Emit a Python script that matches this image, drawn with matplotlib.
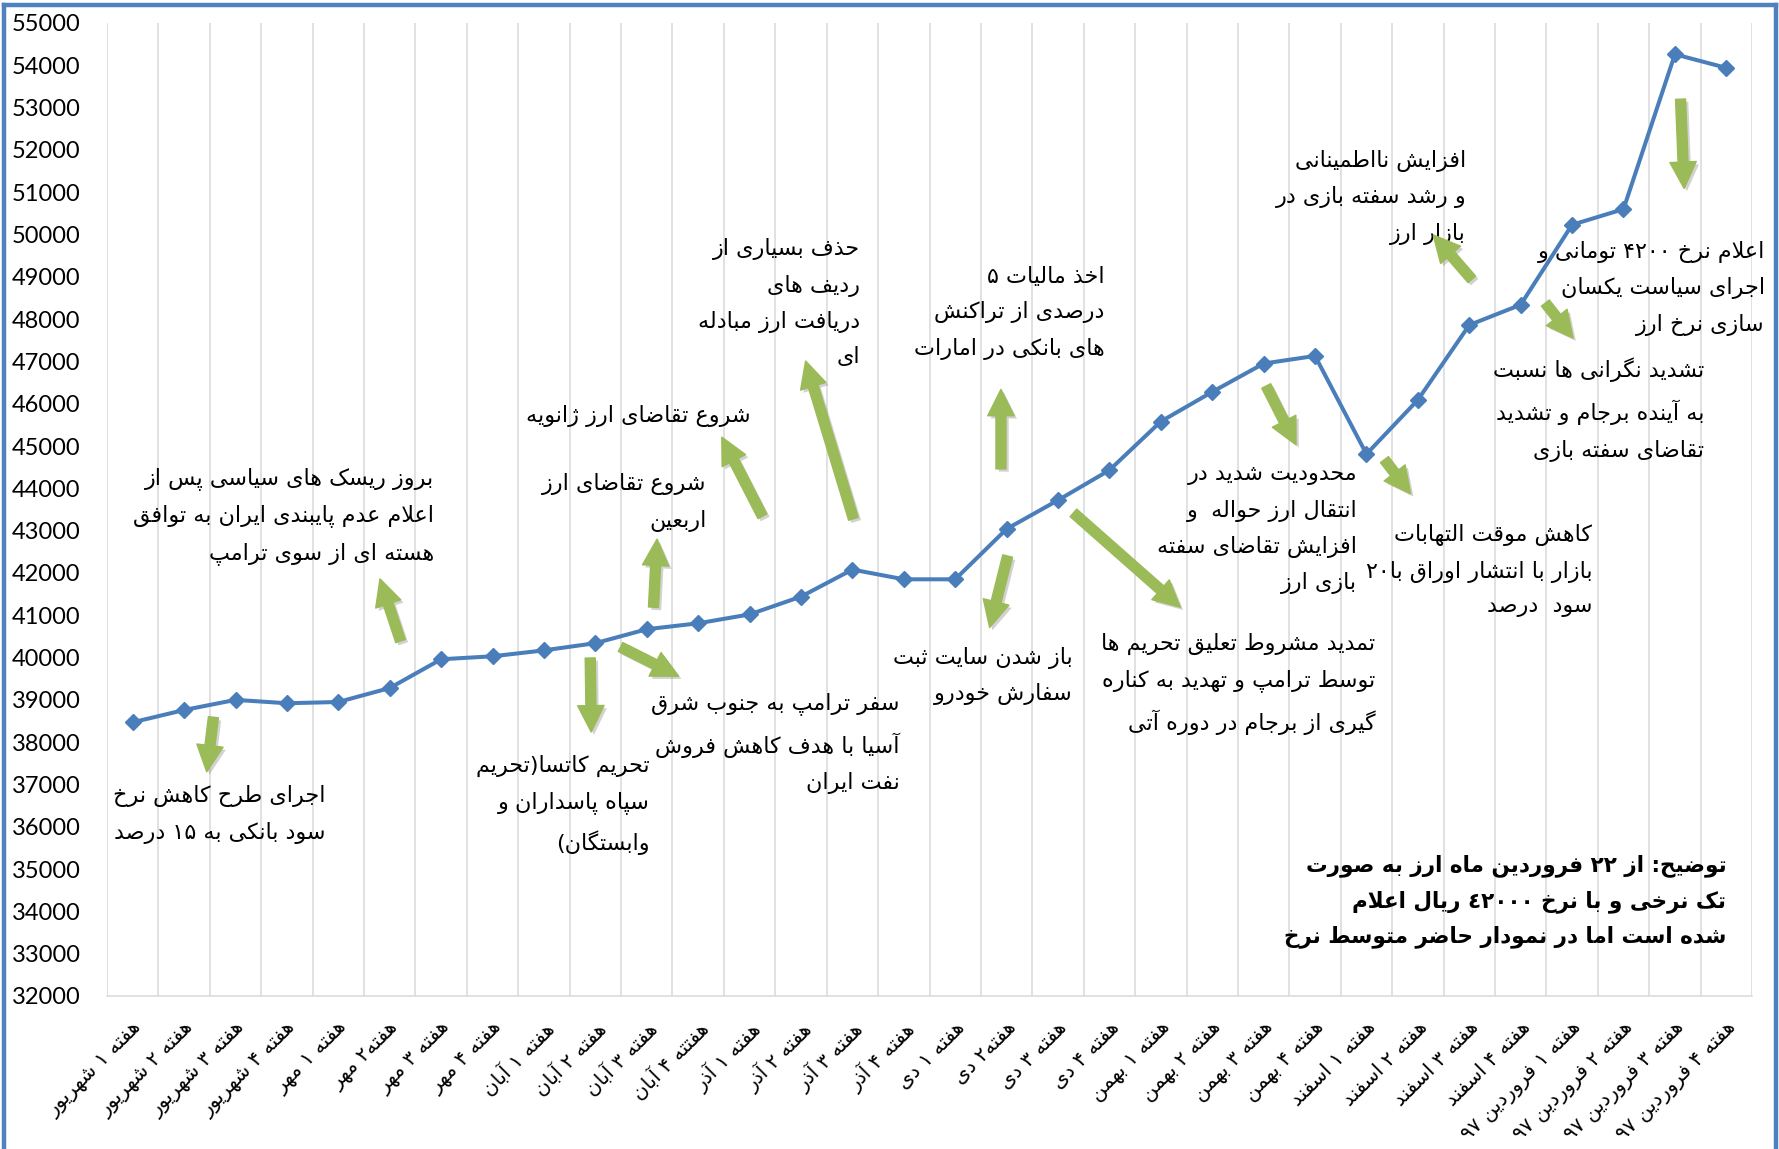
import re
import matplotlib
matplotlib.use('Agg')
import matplotlib.pyplot as plt
import matplotlib.patheffects as pe
from matplotlib.lines import Line2D

# weekly average rate (rial)
weeks = ['هفته ۱ شهریور', 'هفته ۲ شهریور', 'هفته ۳ شهریور', 'هفته ۴ شهریور',
         'هفته ۱ مهر', 'هفته۲ مهر', 'هفته ۳ مهر', 'هفته ۴ مهر',
         'هفته ۱ آبان', 'هفته ۲ آبان', 'هفته ۳ آبان', 'هفتته ۴ آبان',
         'هفته ۱ آذر', 'هفته ۲ آذر', 'هفته ۳ آذر', 'هفته ۴ آذر',
         'هفته ۱ دی', 'هفته۲ دی', 'هفته ۳ دی', 'هفته ۴ دی',
         'هفته ۱ بهمن', 'هفته ۲ بهمن', 'هفته ۳ بهمن', 'هفته ۴ بهمن',
         'هفته ۱ اسفند', 'هفته ۲ اسفند', 'هفته ۳ اسفند', 'هفته ۴ اسفند',
         'هفته ۱ فروردین ۹۷', 'هفته ۲ فروردین ۹۷', 'هفته ۳ فروردین ۹۷', 'هفته ۴ فروردین ۹۷']
rates = [38470, 38760, 39000, 38920, 38950, 39280, 39960, 40030,
         40170, 40340, 40670, 40810, 41020, 41440, 42080, 41850,
         41850, 43040, 43720, 44430, 45580, 46280, 46950, 47130,
         44810, 46090, 47860, 48340, 50230, 50600, 54260, 53940]
yticks = list(range(32000, 55001, 1000))

# event notes: (text, right edge x, top y)
events = [
    ('اجرای طرح کاهش نرخ\nسود بانکی به ۱۵ درصد', 3.75, 36985),
    ('بروز ریسک های سیاسی پس از\nاعلام عدم پایبندی ایران به توافق\nهسته ای از سوی ترامپ', 5.87, 44500),
    ('تحریم کاتسا(تحریم\nسپاه پاسداران و\nوابستگان)', 10.05, 37710),
    ('شروع تقاضای ارز\nاربعین', 11.17, 44360),
    ('شروع تقاضای ارز ژانویه', 12.03, 45980),
    ('سفر ترامپ به جنوب شرق\nآسیا با هدف کاهش فروش\nنفت ایران', 14.92, 39180),
    ('حذف بسیاری از\nردیف های\nدریافت ارز مبادله\nای', 14.15, 49910),
    ('اخذ مالیات ۵\nدرصدی از تراکنش\nهای بانکی در امارات', 18.90, 49240),
    ('باز شدن سایت ثبت\nسفارش خودرو', 18.28, 40260),
    ('تمدید مشروط تعلیق تحریم ها\nتوسط ترامپ و تهدید به کناره\nگیری از برجام در دوره آتی', 24.17, 40580),
    ('محدودیت شدید در\nانتقال ارز حواله  و\nافزایش تقاضای سفته\nبازی ارز', 23.82, 44550),
    ('افزایش نااطمینانی\nو رشد سفته بازی در\nبازار ارز', 25.94, 52000),
    ('اعلام نرخ ۴۲۰۰ تومانی و\nاجرای سیاست یکسان\nسازی نرخ ارز', 31.75, 49850),
    ('تشدید نگرانی ها نسبت\nبه آینده برجام و تشدید\nتقاضای سفته بازی', 30.57, 47090),
    ('کاهش موقت التهابات\nبازار با انتشار اوراق با۲۰\nسود  درصد', 28.39, 43150),
]
note = ('توضیح: از ۲۲ فروردین ماه ارز به صورت\n'
        'تک نرخی و با نرخ ٤۲۰۰۰ ریال اعلام\n'
        'شده است اما در نمودار حاضر متوسط نرخ')

# arrows: (tail x, tail y, head x, head y)
arrows = [
    (1.57, 38590, 1.44, 37300),
    (5.21, 40390, 4.81, 41860),
    (8.90, 39990, 8.92, 38240),
    (10.13, 41190, 10.20, 42800),
    (12.25, 43340, 11.46, 45210),
    (9.49, 40250, 10.62, 39560),
    (14.02, 43280, 13.09, 47010),
    (16.89, 44460, 16.89, 46340),
    (17.02, 42400, 16.67, 40710),
    (18.30, 43420, 20.38, 41190),
    (22.05, 46420, 22.63, 45030),
    (26.05, 48940, 25.30, 49990),
    (30.11, 53200, 30.18, 51090),
    (27.48, 48380, 28.02, 47550),
    (24.35, 44680, 24.86, 43870),
]

# --- minimal Persian shaping so DejaVu Sans draws joined letters ---
DUAL = {'ئ': 0xFE89, 'ب': 0xFE8F, 'ت': 0xFE95, 'ث': 0xFE99, 'ج': 0xFE9D,
        'ح': 0xFEA1, 'خ': 0xFEA5, 'س': 0xFEB1, 'ش': 0xFEB5, 'ص': 0xFEB9,
        'ض': 0xFEBD, 'ط': 0xFEC1, 'ظ': 0xFEC5, 'ع': 0xFEC9, 'غ': 0xFECD,
        'ف': 0xFED1, 'ق': 0xFED5, 'ك': 0xFED9, 'ل': 0xFEDD, 'م': 0xFEE1,
        'ن': 0xFEE5, 'ه': 0xFEE9, 'ي': 0xFEF1, 'پ': 0xFB56, 'چ': 0xFB7A,
        'ک': 0xFB8E, 'گ': 0xFB92, 'ی': 0xFBFC}
RIGHT = {'آ': 0xFE81, 'أ': 0xFE83, 'ؤ': 0xFE85, 'إ': 0xFE87, 'ا': 0xFE8D,
         'ة': 0xFE93, 'د': 0xFEA9, 'ذ': 0xFEAB, 'ر': 0xFEAD, 'ز': 0xFEAF,
         'و': 0xFEED, 'ى': 0xFEEF, 'ژ': 0xFB8A}
LAM_ALEF = {'ا': 0xFEFB, 'آ': 0xFEF5, 'أ': 0xFEF7, 'إ': 0xFEF9}


def shape(line):
    out = []
    i = 0
    while i < len(line):
        c = line[i]
        prev = line[i - 1] if i > 0 else ''
        nxt = line[i + 1] if i + 1 < len(line) else ''
        jp = (c in DUAL or c in RIGHT) and prev in DUAL
        if c == 'ل' and nxt in LAM_ALEF:
            out.append(chr(LAM_ALEF[nxt] + jp))
            i += 2
            continue
        if c in DUAL:
            jn = nxt in DUAL or nxt in RIGHT
            form = 3 if (jp and jn) else 1 if jp else 2 if jn else 0
            out.append(chr(DUAL[c] + form))
        elif c in RIGHT:
            out.append(chr(RIGHT[c] + jp))
        elif c != '\u200c':
            out.append(c)
        i += 1
    return out


def rtl(text):
    lines = []
    for line in text.split('\n'):
        s = ''.join(shape(line)[::-1])
        s = re.sub(r'[0-9۰-۹٠-٩]+', lambda m: m.group(0)[::-1], s)
        lines.append(s.translate(str.maketrans('()', ')(')))
    return '\n'.join(lines)


blue = '#4A7EBB'
green = '#9BBB59'
grid = '#D9D9D9'

fig = plt.figure(figsize=(17.79, 11.49), dpi=100)
ax = fig.add_axes([107 / 1779, 153 / 1149, 1645 / 1779, 973 / 1149])

x = list(range(len(rates)))
ax.plot(x, rates, color=blue, lw=2.9, marker='D', ms=8.5,
        mfc=blue, mec=blue, zorder=3)

ax.set_xlim(-0.5, len(rates) - 0.5)
ax.set_ylim(32000, 55000)
ax.set_yticks(yticks)
ax.set_yticklabels([str(v) for v in yticks], fontsize=17, family='Lato')
ax.tick_params(axis='y', length=0, pad=19)

ax.set_xticks(x)
ax.set_xticklabels([rtl(w) for w in weeks], rotation=45, ha='right', va='top',
                   rotation_mode='anchor', fontsize=14.5, family='DejaVu Sans')
ax.tick_params(axis='x', length=0, pad=16)

# vertical gridlines on category boundaries
ax.set_xticks([i - 0.5 for i in range(len(rates) + 1)], minor=True)
ax.tick_params(axis='x', which='minor', length=0)
ax.grid(True, which='minor', axis='x', color=grid, lw=1.1)
ax.set_axisbelow(True)
for side in ('left', 'right', 'top'):
    ax.spines[side].set_visible(False)
ax.spines['bottom'].set_color(grid)
ax.spines['bottom'].set_linewidth(1.1)

for txt, tx, ty in events:
    ax.text(tx, ty, rtl(txt), ha='right', va='top', multialignment='right',
            fontsize=16, family='DejaVu Sans', linespacing=1.85, zorder=4)

ax.text(31.0, 35350, rtl(note), ha='right', va='top', multialignment='right',
        fontsize=15.5, fontweight='bold', family='DejaVu Sans',
        linespacing=1.75, zorder=4)

for x0, y0, x1, y1 in arrows:
    a = ax.annotate('', xy=(x1, y1), xytext=(x0, y0), zorder=5,
                    arrowprops=dict(arrowstyle='simple,head_length=0.95,head_width=0.95,tail_width=0.36',
                                    color=green, mutation_scale=20,
                                    shrinkA=0, shrinkB=0))
    a.arrow_patch.set_path_effects([
        pe.SimplePatchShadow(offset=(2, -2), shadow_rgbFace='#808080', alpha=0.35),
        pe.Normal()])

# chart border
bw = 3.2
fig.add_artist(Line2D([4 / 1779, 4 / 1779], [0, 1 - 4.5 / 1149], color='#4F81BD', lw=bw))
fig.add_artist(Line2D([4 / 1779, 1775.5 / 1779], [1 - 4.5 / 1149, 1 - 4.5 / 1149], color='#4F81BD', lw=bw))
fig.add_artist(Line2D([1775.5 / 1779, 1775.5 / 1779], [0, 1 - 4.5 / 1149], color='#4F81BD', lw=bw))

fig.savefig('out.png', dpi=100, facecolor='white')
